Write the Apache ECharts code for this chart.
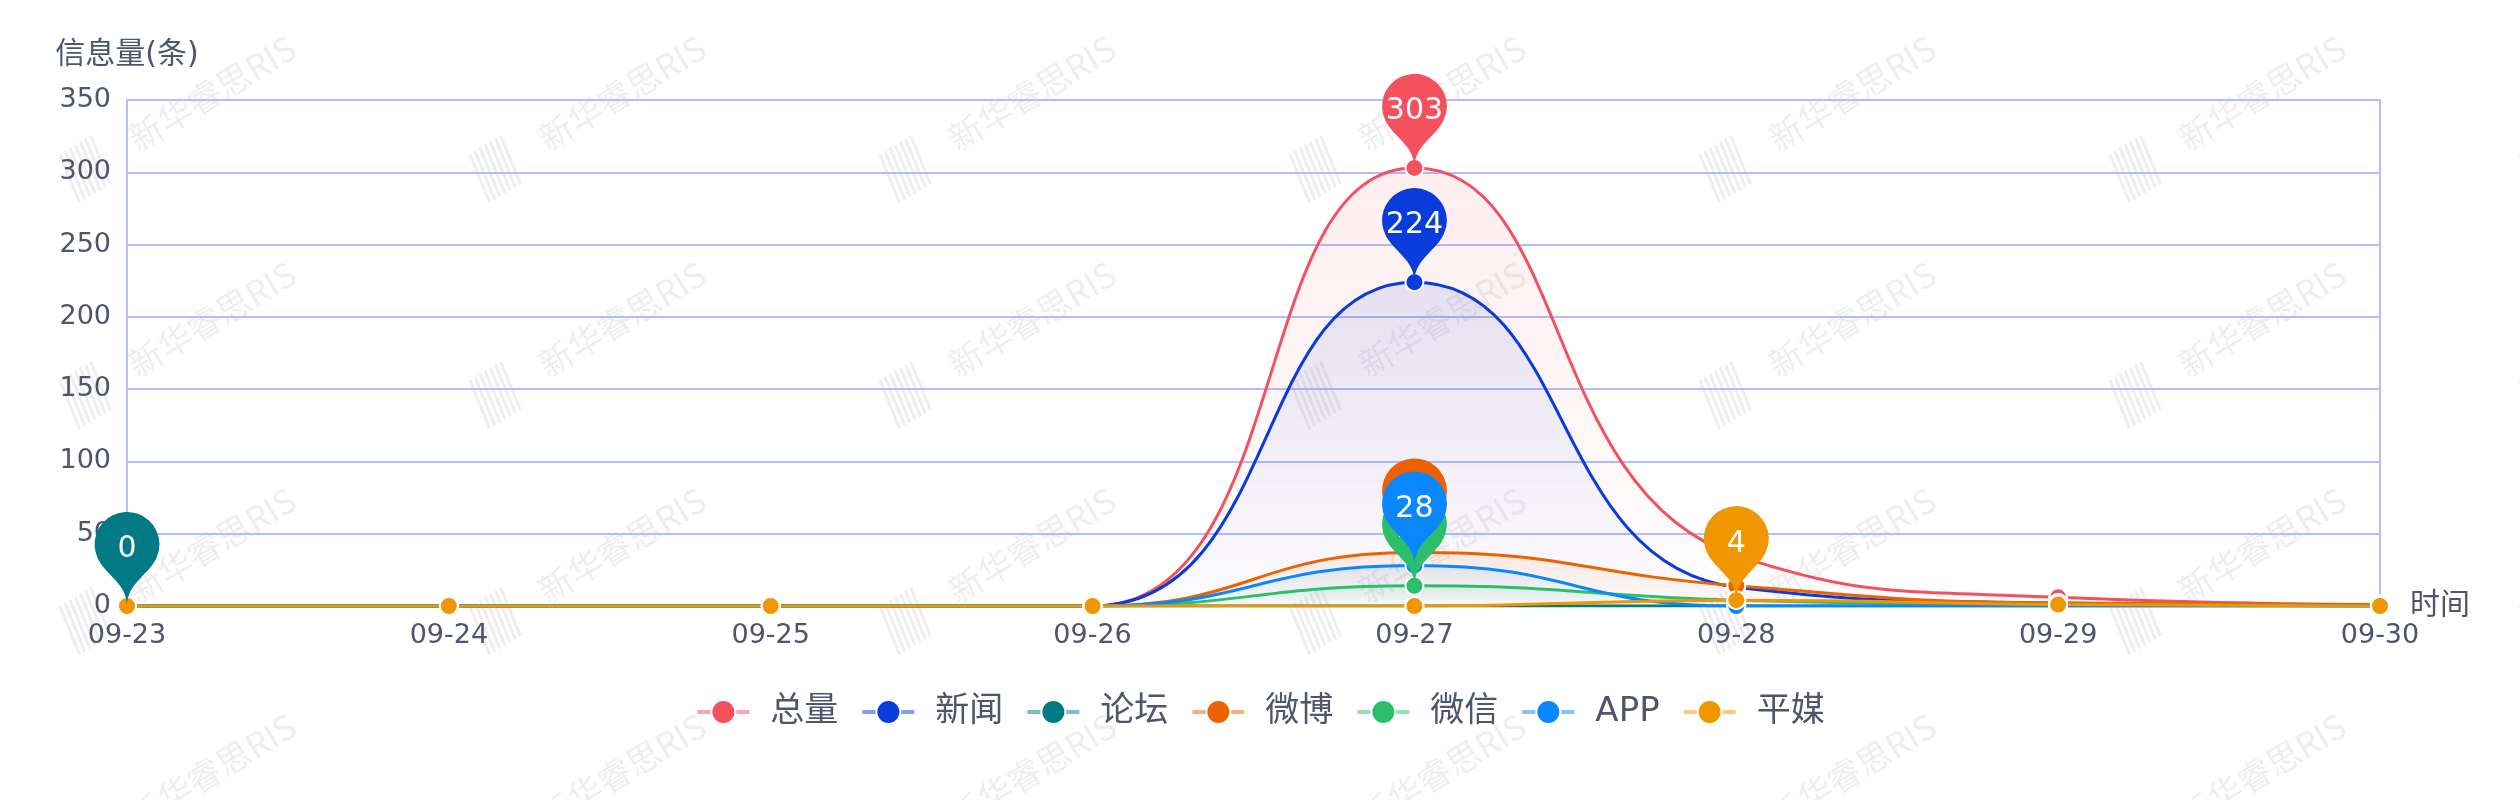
<!DOCTYPE html>
<html>
<head>
<meta charset="utf-8">
<title>信息量走势</title>
<script src="https://cdn.jsdelivr.net/npm/echarts@6/dist/echarts.min.js"></script>
<style>
  html, body { margin: 0; padding: 0; background: #fff; }
  #container { width: 2520px; height: 800px; }
</style>
</head>
<body>
<div id="container"></div>
<script>
// 日期
const dates = ['09-23', '09-24', '09-25', '09-26', '09-27', '09-28', '09-29', '09-30'];
// 各渠道信息量(条)
const total  = [0, 0, 0, 0, 303, 35, 6, 1];
const news   = [0, 0, 0, 0, 224, 13, 2, 0];
const forum  = [0, 0, 0, 0, 0, 0, 0, 0];
const weibo  = [0, 0, 0, 0, 37, 14, 2, 1];
const wechat = [0, 0, 0, 0, 14, 4, 1, 0];
const app    = [0, 0, 0, 0, 28, 0, 0, 0];
const paper  = [0, 0, 0, 0, 0, 4, 1, 0];
// y 轴刻度
const yMin = 0;
const yMax = 350;
const yStep = 50;

const seriesNames = ['总量', '新闻', '论坛', '微博', '微信', 'APP', '平媒'];
const seriesData = [total, news, forum, weibo, wechat, app, paper];
const colors = ['#F4505E', '#0A3CDB', '#007A85', '#EE6100', '#2DBE6C', '#0A87FF', '#F09600'];

const textColor = '#4F546F';
const lineColor = '#B0BEFF';
const font = '"DejaVu Sans", "Noto Sans CJK SC", sans-serif';

function rgba(hex, a) {
	const n = parseInt(hex.slice(1), 16);
	return 'rgba(' + (n >> 16) + ',' + ((n >> 8) & 255) + ',' + (n & 255) + ',' + a + ')';
}

// 水印平铺
function watermark() {
	const c = document.createElement('canvas');
	c.width = 410;
	c.height = 226;
	const ctx = c.getContext('2d');
	ctx.translate(92, 165);
	ctx.rotate(-31 * Math.PI / 180);
	ctx.strokeStyle = 'rgba(200,200,206,0.3)';
	ctx.lineWidth = 3;
	for (let i = 0; i < 7; i++) {
		ctx.beginPath();
		ctx.moveTo(-22 + i * 6, -26);
		ctx.lineTo(-30 + i * 6, 26);
		ctx.stroke();
	}
	ctx.fillStyle = 'rgba(200,200,206,0.3)';
	ctx.font = '34px "Noto Sans CJK SC", sans-serif';
	ctx.textBaseline = 'middle';
	ctx.fillText('新华睿思RIS', 46, 0);
	return c;
}

const myChart = echarts.init(document.getElementById('container'));

const series = seriesNames.map((name, i) => ({
	name: name,
	type: 'line',
	data: seriesData[i],
	smooth: true,
	symbol: 'circle',
	symbolSize: 18,
	itemStyle: { color: colors[i], borderColor: '#fff', borderWidth: 2 },
	lineStyle: { color: colors[i], width: 3 },
	areaStyle: {
		color: new echarts.graphic.LinearGradient(0, 0, 0, 1, [
			{ offset: 0, color: rgba(colors[i], 0.14) },
			{ offset: 1, color: rgba(colors[i], 0.01) },
		]),
	},
	markPoint: {
		z: 10 + i,
		symbol: 'pin',
		symbolSize: 108,
		data: [{ type: 'max', name: '最大值' }],
		itemStyle: { color: colors[i], borderWidth: 0 },
		label: { color: '#fff', fontSize: 30, fontFamily: font },
	},
}));

const option = {
	backgroundColor: { image: watermark(), repeat: 'repeat' },
	animation: false,
	color: colors,
	grid: {
		left: 127,
		right: 140,
		top: 100,
		bottom: 194,
		show: true,
		borderColor: lineColor,
		borderWidth: 2,
		backgroundColor: 'transparent',
		outerBoundsMode: 'none',
	},
	legend: {
		data: seriesNames,
		top: 690,
		left: 'center',
		itemWidth: 52,
		itemHeight: 30,
		itemGap: 22,
		lineStyle: { width: 4, opacity: 0.5 },
		textStyle: { fontSize: 34, color: textColor, fontFamily: font, padding: [0, 0, 0, 16] },
	},
	xAxis: {
		type: 'category',
		name: '时间',
		nameGap: 30,
		nameTextStyle: { fontSize: 30, color: textColor, fontFamily: font },
		boundaryGap: false,
		data: dates,
		axisLine: { lineStyle: { color: lineColor, width: 2 } },
		axisTick: { show: false },
		axisLabel: { fontSize: 27, color: textColor, margin: 16, fontFamily: font },
		splitLine: { show: false },
	},
	yAxis: {
		type: 'value',
		name: '信息量(条)',
		nameGap: 30,
		nameTextStyle: { fontSize: 30, color: textColor, fontFamily: font },
		min: yMin,
		max: yMax,
		interval: yStep,
		axisLine: { show: true, lineStyle: { color: lineColor, width: 2 } },
		axisTick: { show: false },
		axisLabel: { fontSize: 27, color: textColor, margin: 16, fontFamily: font },
		splitLine: { lineStyle: { color: lineColor, width: 2 } },
	},
	series: series,
};

myChart.setOption(option);
</script>
</body>
</html>
